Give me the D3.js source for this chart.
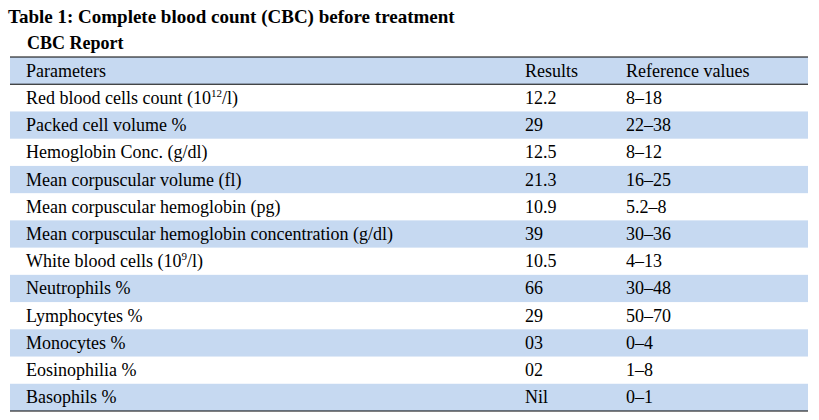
<!DOCTYPE html>
<html><head><meta charset="utf-8">
<script src="https://cdn.jsdelivr.net/npm/d3@7"></script>
<style>body{margin:0;background:#fff}text{font-family:"Liberation Serif",serif;font-size:18px;fill:#000}</style>
</head><body>
<svg id="c" width="819" height="420"></svg>
<script>
const title = "Table 1: Complete blood count (CBC) before treatment"
const subtitle = "CBC Report"
const headers = ["Parameters", "Results", "Reference  values"]
const parameters = [
  ["Red blood cells count  (10", "12", "/l)"],
  ["Packed cell volume %"],
  ["Hemoglobin Conc. (g/dl)"],
  ["Mean corpuscular volume (fl)"],
  ["Mean corpuscular hemoglobin (pg)"],
  ["Mean corpuscular hemoglobin concentration (g/dl)"],
  ["White blood cells  (10", "9", "/l)"],
  ["Neutrophils %"],
  ["Lymphocytes %"],
  ["Monocytes %"],
  ["Eosinophilia %"],
  ["Basophils %"]
]
const results = ["12.2", "29", "12.5", "21.3", "10.9", "39", "10.5", "66", "29", "03", "02", "Nil"]
const refValues = ["8–18", "22–38", "8–12", "16–25", "5.2–8", "30–36", "4–13", "30–48", "50–70", "0–4", "1–8", "0–1"]

const svg = d3.select("#c")
const tLeft = 10, tRight = 808, tTop = 57, tBottom = 411
const y = d3.scaleBand().domain(d3.range(13)).range([tTop, tBottom])
const colX = [26, 525, 626]
const blue = "#c6d9f1"

svg.append("text").attr("x", 8).attr("y", 23).attr("font-weight", "bold").style("font-size", "19px").text(title)
svg.append("text").attr("x", 27).attr("y", 49).attr("font-weight", "bold").text(subtitle)

svg.selectAll("rect.row").data(d3.range(13).filter(i => i % 2 === 0))
  .join("rect").attr("x", tLeft).attr("width", tRight - tLeft)
  .attr("y", i => y(i)).attr("height", y.bandwidth()).attr("fill", blue)

headers.forEach((h, j) => svg.append("text").attr("x", colX[j]).attr("y", y(0) + y.bandwidth() / 2 + 6).text(h))

parameters.forEach((p, i) => {
  const yy = y(i + 1) + y.bandwidth() / 2 + 6
  const t = svg.append("text").attr("x", colX[0]).attr("y", yy)
  t.append("tspan").text(p[0])
  if (p.length > 1) {
    t.append("tspan").attr("dy", -7).style("font-size", "11px").text(p[1])
    t.append("tspan").attr("dy", 7).text(p[2])
  }
  svg.append("text").attr("x", colX[1]).attr("y", yy).text(results[i])
  svg.append("text").attr("x", colX[2]).attr("y", yy).text(refValues[i])
})

;[y(0), y(1), tBottom].forEach(v => svg.append("line").attr("x1", tLeft).attr("x2", tRight)
  .attr("y1", v).attr("y2", v).attr("stroke", "#000").attr("stroke-width", 1))
</script>
</body></html>
